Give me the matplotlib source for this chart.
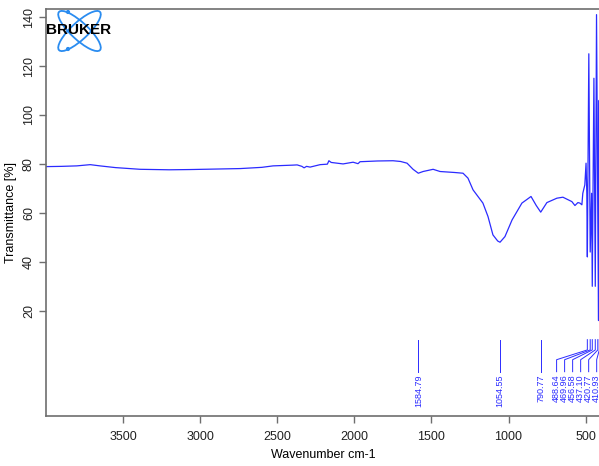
import matplotlib
matplotlib.use("Agg")
import matplotlib.pyplot as plt
from matplotlib.patches import Ellipse, Circle

plt.rcParams['font.family'] = ['Liberation Sans', 'DejaVu Sans']

# spectrum (wavenumber, transmittance)
wavenumber = [4000, 3900, 3800, 3713, 3650, 3550, 3389, 3200, 3065, 2900,
              2740, 2600, 2527, 2400, 2371, 2340, 2326, 2310, 2287, 2222,
              2175, 2165, 2150, 2073, 2008, 1976, 1963, 1850, 1749, 1700,
              1658, 1619, 1585, 1554, 1489, 1444, 1350, 1295, 1263, 1230,
              1166, 1133, 1101, 1070, 1055, 1023, 977, 913, 880, 854,
              820, 791, 751, 686, 647, 589, 569, 550, 537, 524,
              518, 505, 497, 492, 488.6, 479, 470, 461, 456.6, 446,
              437.1, 429, 420.8, 416, 412, 410.9, 405, 400]
transmittance = [78.9, 79.0, 79.2, 79.7, 79.2, 78.5, 77.8, 77.6, 77.7, 77.9,
                 78.1, 78.6, 79.2, 79.5, 79.6, 79.0, 78.4, 79.0, 78.7, 79.7,
                 79.9, 81.3, 80.6, 80.0, 80.7, 80.1, 80.9, 81.2, 81.3, 81.0,
                 80.3, 77.8, 76.2, 76.9, 77.8, 76.9, 76.5, 76.2, 74.2, 69.4,
                 64.0, 58.5, 51.0, 48.5, 48.0, 50.3, 57.1, 64.0, 65.5, 66.7,
                 63.0, 60.3, 64.2, 66.0, 66.4, 64.6, 63.0, 64.2, 64.0, 63.3,
                 68.0, 71.4, 80.3, 68.0, 42.0, 125.0, 44.0, 68.0, 30.0, 115.0,
                 30.0, 141.0, 60.0, 16.0, 106.0, 20.0, 80.0, 60.0]

peak_pos = [1584.79, 1054.55, 790.77, 488.64, 469.96, 456.58, 437.10, 420.77, 410.93]
peak_labels = ['1584.79', '1054.55', '790.77', '488.64', '469.96', '456.58',
               '437.10', '420.77', '410.93']
# where the labels sit (the cluster is spread out to the left)
label_pos = [1584.79, 1054.55, 790.77, 688, 636, 584, 532, 480, 428]

xticks = [3500, 3000, 2500, 2000, 1500, 1000, 500]
yticks = [20, 40, 60, 80, 100, 120, 140]

blue = '#2b2bff'
grey = '#6e6e6e'

fig = plt.figure(figsize=(5.99, 4.66), dpi=100)
ax = fig.add_axes([46/599, 1-416/466, 555/599, 407/466])

ax.plot(wavenumber, transmittance, color=blue, lw=0.9)

# peak markers
for p, lp, lab in zip(peak_pos, label_pos, peak_labels):
    if p == lp:
        ax.plot([p, p], [8.2, -4.9], color=blue, lw=0.7)
    else:
        ax.plot([p, p, lp, lp], [8.2, 4.0, 0.0, -4.9], color=blue, lw=0.7)
    ax.text(lp, -6.0, lab, rotation=90, ha='center', va='top', fontsize=6.5,
            color=blue, clip_on=False)

ax.set_xlim(4000, 400)
ax.set_ylim(-23, 143.3)
ax.set_xticks(xticks)
ax.set_yticks(yticks)
ax.tick_params(axis='both', direction='out', length=5, width=1, color=grey,
               labelsize=9, labelcolor='#222222')
ax.tick_params(axis='x', pad=6)
ax.tick_params(axis='y', pad=3)
for lab in ax.get_yticklabels():
    lab.set_rotation(90)
    lab.set_va('center')
ax.spines['right'].set_visible(False)
for s in ['left', 'bottom', 'top']:
    ax.spines[s].set_color(grey)
    ax.spines[s].set_linewidth(1.2)

ax.set_xlabel('Wavenumber cm-1', fontsize=9, labelpad=4)
ax.set_ylabel('Transmittance [%]', fontsize=9, labelpad=4)

# Bruker logo
lax = fig.add_axes([57/599, 1-52/466, 46/599, 42/466])
lax.set_xlim(0, 46)
lax.set_ylim(0, 42)
lax.axis('off')
for ang in [43, -43]:
    lax.add_patch(Ellipse((22.5, 21), 56, 17, angle=ang, fill=False,
                          ec='#2a8cf0', lw=1.3))
lax.add_patch(Circle((11, 40), 1.4, color='#2a8cf0'))
lax.add_patch(Circle((11, 3), 1.4, color='#2a8cf0'))
fig.text(78.5/599, 1-30.5/466, 'BRUKER', ha='center', va='center',
         fontsize=11, fontweight='bold', color='black', zorder=10)

fig.savefig('out.png', dpi=100)
